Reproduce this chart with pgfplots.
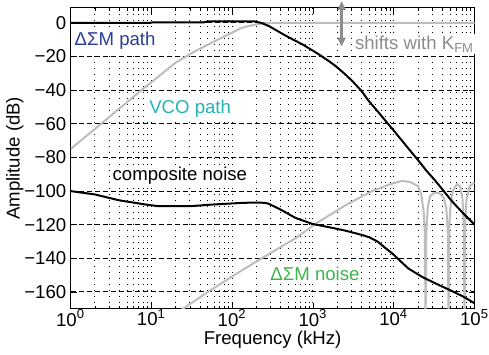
\documentclass[border=0pt]{standalone}
\usepackage{fontspec}
\setmainfont{Liberation Sans}
\usepackage{pgfplots}
\pgfplotsset{compat=1.18}
\usetikzlibrary{arrows.meta}
\definecolor{pathblue}{HTML}{2A3C9A}
\definecolor{vcoteal}{HTML}{22B5B5}
\definecolor{noisegreen}{HTML}{3DB54A}
\definecolor{lgray}{HTML}{BDBDBD}
\definecolor{tgray}{HTML}{8C8C8C}
\begin{document}
\fontsize{9.3}{11}\selectfont
\begin{tikzpicture}
\begin{axis}[
  scale only axis, width=202pt, height=150.5pt,
  xmode=log, xmin=1, xmax=1e5, ymin=-170, ymax=9,
  clip mode=individual,
  xtick={1,10,100,1000,10000,100000},
  xticklabels={10\textsuperscript{0},10\textsuperscript{1},10\textsuperscript{2},10\textsuperscript{3},10\textsuperscript{4},10\textsuperscript{5}},
  ytick={-160,-140,-120,-100,-80,-60,-40,-20,0},
  yticklabels={−160,−140,−120,−100,−80,−60,−40,−20,0},
  tick label style={font=\fontsize{9.3}{11}\selectfont},
  xticklabel style={inner xsep=0pt, yshift=3pt},
  yticklabel style={inner xsep=0pt, xshift=-2pt},
  label style={font=\fontsize{9.3}{11}\selectfont},
  xlabel={Frequency (kHz)}, ylabel={Amplitude (dB)},
  xlabel style={yshift=4pt},
  ylabel style={at={(axis description cs:-0.138,0.5)}, anchor=center},
  tick align=inside, major tick length=3pt, minor tick length=1.5pt,
  tick style={black, line width=0.4pt},
  xmajorgrids, xminorgrids, ymajorgrids,
  major x grid style={black, line width=0.5pt, dash pattern=on 0.5pt off 2.5pt},
  minor x grid style={black, line width=0.5pt, dash pattern=on 0.5pt off 2.5pt},
  major y grid style={black, line width=0.5pt, dash pattern=on 2.5pt off 1.5pt},
  axis line style={black, line width=0.6pt},
]
% Delta-Sigma noise (gray)
\addplot[lgray, line width=1pt] coordinates {
(20,-173) (50,-160) (110,-149.5) (251,-139) (610,-128) (1072,-119.5) (2512,-108.5)
(5370,-100) (8913,-96) (12589,-94) (15849,-94.5) (19953,-97) (21878,-102) (23442,-112)
(24266,-125) (24774,-180) (25293,-125) (26303,-110) (28184,-103) (31623,-101) (36308,-101)
(41687,-104) (44668,-110) (46559,-122) (47643,-180) (48753,-122) (50119,-110) (53703,-100)
(60256,-96) (66069,-97) (70795,-104) (73451,-118) (75162,-180) (76913,-118) (79433,-105)
(87096,-97) (100000,-95)};
% VCO path (gray)
\addplot[lgray, line width=1pt] coordinates {
(1,-75) (3,-56) (7.3,-40.5) (20,-23.6) (35,-16.7) (51,-12.7) (80,-8) (133,-2.8)
(200,-0.8) (260,-0.1) (350,0) (100000,0)};
% Delta-Sigma path (black)
\addplot[black, line width=1pt] coordinates {
(1,0) (9.5,0) (10.5,0.4) (45,0.4) (50,0.9) (190,0.9) (230,0) (284,-1.8) (350,-4.3)
(457,-7.5) (600,-10.5) (738,-12.7) (1000,-16.5) (1175,-18.6) (1500,-22) (1905,-25.6)
(2500,-30.5) (3062,-34.5) (4000,-40.5) (4900,-46.4) (6300,-52.5) (7940,-58.3)
(10000,-64) (12735,-70.2) (16000,-76) (20400,-82.1) (25000,-87.5) (32900,-94)
(40000,-99) (52500,-106) (70000,-112.5) (100000,-120)};
% composite noise (black)
\addplot[black, line width=1pt] coordinates {
(1,-100) (2,-102) (4,-105.5) (8.5,-108) (12.3,-109) (30,-109) (57,-108) (135,-107)
(200,-106.8) (257,-107) (282,-107.5) (398,-111) (610,-116) (1000,-119.6) (1585,-121.5)
(2512,-123.5) (3981,-126) (5000,-127.5) (6300,-130) (7943,-134) (9550,-137)
(12000,-141.5) (15136,-146) (22387,-151) (33113,-155) (50119,-159) (70795,-162.5)
(100000,-166.7)};
\node[anchor=west, text=pathblue, fill=white, inner sep=1pt] at (axis cs:1.05,-10.7) {ΔΣM path};
\node[anchor=west, text=vcoteal, fill=white, inner sep=1pt] at (axis cs:8.8,-51) {VCO path};
\node[anchor=west, text=black, fill=white, inner sep=1pt] at (axis cs:3.1,-91) {composite noise};
\node[anchor=west, text=noisegreen, fill=white, inner sep=1pt] at (axis cs:278,-149) {ΔΣM noise};
\node[anchor=west, text=tgray, fill=white, inner sep=1pt] at (axis cs:3100,-12.7) {shifts with K\textsubscript{FM}};
\draw[tgray, line width=1.1pt, {Triangle[length=4.5pt,width=4pt]}-{Triangle[length=4.5pt,width=4pt]}]
  (axis cs:2260,13) -- (axis cs:2260,-14);
\end{axis}
\end{tikzpicture}
\end{document}
